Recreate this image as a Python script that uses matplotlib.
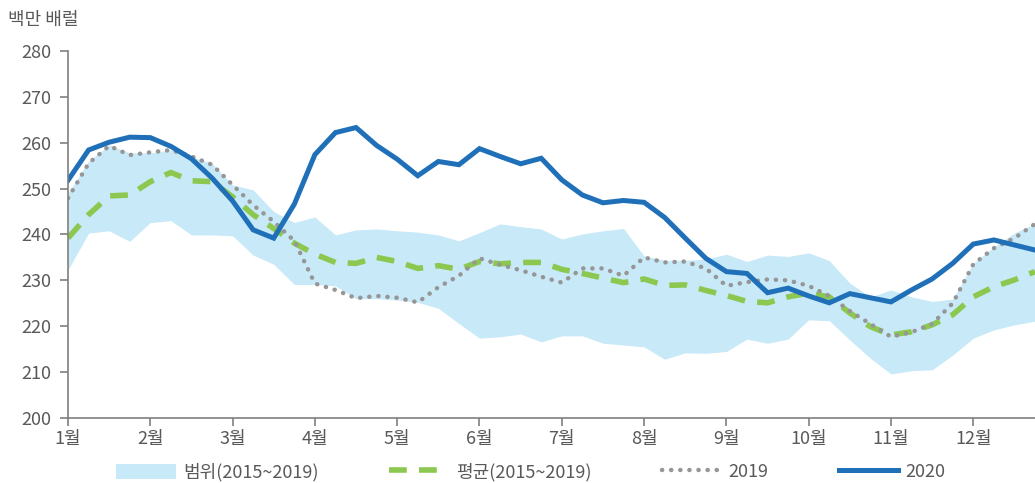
import numpy as np
import matplotlib
matplotlib.use("Agg")
import matplotlib.pyplot as plt
from matplotlib.patches import Patch
from matplotlib.lines import Line2D

plt.rcParams['font.family'] = ['Noto Sans CJK KR', 'DejaVu Sans']

# weekly values, 48 weeks
months = ['1월', '2월', '3월', '4월', '5월', '6월', '7월', '8월', '9월', '10월', '11월', '12월']

y2020 = [251.8, 258.4, 260.1, 261.2, 261.1, 259.2, 256.5, 252.3, 247.3, 241.0, 239.2, 246.6,
         257.4, 262.2, 263.3, 259.4, 256.4, 252.8, 255.9, 255.2, 258.7, 257.0, 255.4, 256.6,
         251.9, 248.6, 246.9, 247.4, 247.0, 243.7, 239.2, 234.8, 231.9, 231.5, 227.3, 228.3,
         226.6, 225.1, 227.1, 226.2, 225.3, 227.9, 230.3, 233.7, 237.9, 238.8, 237.7, 236.6]

y2019 = [247.9, 255.5, 259.3, 257.3, 257.9, 258.4, 257.0, 255.2, 250.8, 246.4, 242.8, 238.6,
         229.3, 227.9, 226.1, 226.6, 226.2, 225.2, 228.5, 231.0, 234.8, 233.4, 232.2, 230.8,
         229.5, 232.6, 232.6, 231.0, 235.0, 233.9, 234.1, 232.6, 228.8, 229.6, 230.2, 230.0,
         228.8, 226.6, 223.3, 220.5, 217.7, 218.7, 220.5, 225.0, 233.5, 237.0, 239.2, 242.3]

avg = [239.2, 244.3, 248.4, 248.6, 251.5, 253.5, 251.7, 251.5, 248.2, 244.3, 241.3, 238.1,
       235.7, 233.9, 233.7, 235.0, 234.1, 232.6, 233.2, 232.4, 234.1, 233.6, 233.9, 233.9,
       232.4, 231.5, 230.5, 229.5, 230.3, 228.9, 229.0, 227.8, 226.7, 225.4, 225.1, 226.4,
       227.2, 226.4, 222.9, 219.9, 218.1, 218.8, 220.3, 222.5, 226.4, 228.6, 230.1, 231.9]

upper = [249.0, 256.0, 259.5, 257.8, 257.8, 258.4, 256.9, 255.5, 250.8, 249.7, 245.0, 242.6,
         243.8, 239.9, 241.0, 241.2, 240.8, 240.5, 239.9, 238.6, 240.4, 242.3, 241.7, 241.2,
         239.0, 240.1, 240.8, 241.3, 235.3, 234.4, 234.4, 234.6, 235.7, 234.1, 235.5, 235.2,
         236.0, 234.3, 229.4, 226.4, 227.9, 226.4, 225.4, 225.9, 233.7, 237.3, 240.3, 242.4]

lower = [232.3, 240.3, 240.8, 238.5, 242.6, 243.0, 239.9, 239.9, 239.7, 235.5, 233.5, 229.1,
         229.1, 228.8, 226.0, 226.0, 225.7, 225.2, 223.9, 220.6, 217.4, 217.7, 218.3, 216.6,
         217.9, 217.9, 216.3, 215.9, 215.5, 212.8, 214.2, 214.1, 214.5, 217.2, 216.3, 217.2,
         221.4, 221.2, 217.0, 213.0, 209.6, 210.3, 210.5, 213.7, 217.4, 219.2, 220.3, 221.1]

x = np.arange(len(y2020))
c_band = '#c7e9f8'
c_avg = '#8cc84f'
c_19 = '#969696'
c_20 = '#1f70b8'
c_txt = '#595959'

fig = plt.figure(figsize=(10.35, 4.83), dpi=100)
ax = fig.add_axes([0.0657, 0.1346, 0.9343, 0.760])

ax.fill_between(x, lower, upper, color=c_band, linewidth=0)
ax.plot(x, avg, color=c_avg, lw=4, dashes=(3.2, 2.2))
ax.plot(x, y2019, color=c_19, lw=3.2, linestyle=(0, (0.05, 2.0)), dash_capstyle='round')
ax.plot(x, y2020, color=c_20, lw=3.6, solid_joinstyle='miter')

ax.set_xlim(0, 47)
ax.set_ylim(200, 280)
ax.set_yticks(range(200, 281, 10))
ax.set_xticks(range(0, 48, 4))
ax.set_xticklabels(months)

for s in ['top', 'right']:
    ax.spines[s].set_visible(False)
for s in ['left', 'bottom']:
    ax.spines[s].set_color('#7f7f7f')
    ax.spines[s].set_linewidth(1.2)
ax.tick_params(axis='both', colors='#7f7f7f', labelcolor=c_txt, labelsize=13,
               length=6, width=1.2, direction='out')
ax.tick_params(axis='y', pad=6)
ax.tick_params(axis='x', pad=3)

fig.text(0.008, 0.958, '백만 배럴', fontsize=13, color=c_txt, va='center', ha='left')

handles = [Patch(facecolor=c_band, edgecolor='none'),
           Line2D([], [], color=c_avg, lw=4, dashes=(3.2, 2.2)),
           Line2D([], [], color=c_19, lw=3.2, linestyle=(0, (0.05, 2.0)), dash_capstyle='round'),
           Line2D([], [], color=c_20, lw=3.6)]
labels = ['범위(2015~2019)', '평균(2015~2019)', '2019', '2020']
fig.legend(handles, labels, loc='lower center', bbox_to_anchor=(0.513, -0.03), ncol=4,
           frameon=False, fontsize=13, labelcolor=c_txt, handlelength=3.3,
           handleheight=0.9, columnspacing=3.9, handletextpad=0.4)

fig.savefig('out.png', dpi=100)
